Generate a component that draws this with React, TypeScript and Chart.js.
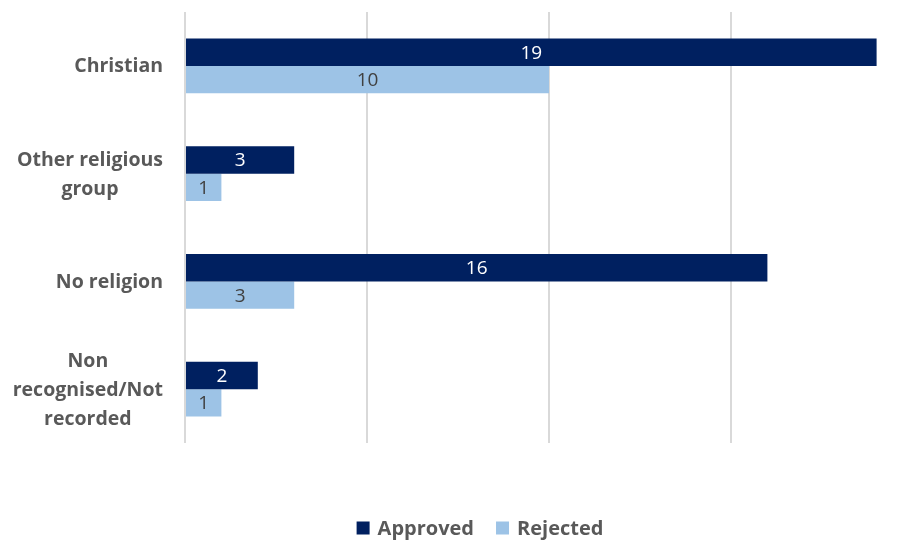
import React, { useEffect, useRef } from "react";
import { Chart, registerables } from "chart.js";

Chart.register(...registerables);

const categories: string[][] = [
  ["Christian"],
  ["Other religious", "group"],
  ["No religion"],
  ["Non", "recognised/Not", "recorded"],
];
const approved = [19, 3, 16, 2];
const rejected = [10, 1, 3, 1];
const seriesNames = ["Approved", "Rejected"];
const seriesColors = ["#002060", "#9DC3E6"];
const labelColors = ["#FFFFFF", "#404040"];

const FONT = "'Open Sans', Lato, sans-serif";

const yLabelPlugin = {
  id: "yLabels",
  afterDraw(chart: any) {
    const ctx = chart.ctx;
    const y = chart.scales.y;
    ctx.save();
    ctx.font = `700 19.5px ${FONT}`;
    ctx.fillStyle = "#595959";
    ctx.textAlign = "center";
    ctx.textBaseline = "middle";
    const right = 163;
    const lh = 29;
    categories.forEach((lines, i) => {
      const cy = y.getPixelForTick(i);
      const maxW = Math.max(...lines.map((l) => ctx.measureText(l).width));
      const cx = right - maxW / 2;
      const start = cy - ((lines.length - 1) * lh) / 2;
      lines.forEach((l, k) => ctx.fillText(l, cx, start + k * lh + 1));
    });
    ctx.restore();
  },
};

const dataLabelPlugin = {
  id: "dataLabels",
  afterDatasetsDraw(chart: any) {
    const ctx = chart.ctx;
    ctx.save();
    ctx.font = `400 19px ${FONT}`;
    ctx.textAlign = "center";
    ctx.textBaseline = "middle";
    chart.data.datasets.forEach((ds: any, di: number) => {
      const meta = chart.getDatasetMeta(di);
      ctx.fillStyle = labelColors[di];
      meta.data.forEach((bar: any, i: number) => {
        const cx = (bar.x + bar.base) / 2;
        ctx.fillText(String(ds.data[i]), cx, bar.y + 1);
      });
    });
    ctx.restore();
  },
};

const legendPlugin = {
  id: "customLegend",
  afterDraw(chart: any) {
    const ctx = chart.ctx;
    ctx.save();
    ctx.font = `700 20px ${FONT}`;
    ctx.textBaseline = "middle";
    ctx.textAlign = "left";
    const box = 13;
    const gapBoxText = 8;
    const gapItems = 22;
    const widths = seriesNames.map((n) => box + gapBoxText + ctx.measureText(n).width);
    const total = widths.reduce((a, b) => a + b, 0) + gapItems * (widths.length - 1);
    let x = 480 - total / 2;
    const cy = 528;
    seriesNames.forEach((n, i) => {
      ctx.fillStyle = seriesColors[i];
      ctx.fillRect(x, cy - box / 2, box, box);
      ctx.fillStyle = "#595959";
      ctx.fillText(n, x + box + gapBoxText, cy + 1);
      x += widths[i] + gapItems;
    });
    ctx.restore();
  },
};

export default function App() {
  const ref = useRef<HTMLCanvasElement>(null);
  useEffect(() => {
    if (!ref.current) return;
    const chart = new Chart(ref.current, {
      type: "bar",
      data: {
        labels: categories.map((c) => c.join(" ")),
        datasets: [
          { label: seriesNames[0], data: approved, backgroundColor: seriesColors[0], borderWidth: 0 },
          { label: seriesNames[1], data: rejected, backgroundColor: seriesColors[1], borderWidth: 0 },
        ],
      },
      options: {
        indexAxis: "y",
        responsive: false,
        animation: false,
        layout: { padding: { top: 12, bottom: 98, left: 0, right: 1 } },
        datasets: { bar: { barPercentage: 1, categoryPercentage: 0.51 } },
        plugins: { legend: { display: false }, tooltip: { enabled: false } },
        scales: {
          x: {
            min: 0,
            max: 20,
            ticks: { display: false, stepSize: 5 },
            grid: { color: "#D9D9D9", lineWidth: 2, drawTicks: false },
            border: { display: false },
            afterFit: (s: any) => { s.height = 0; },
          },
          y: {
            ticks: { display: false },
            grid: { display: false, drawTicks: false },
            border: { display: false },
            afterFit: (s: any) => { s.width = 185; },
          },
        },
      } as any,
      plugins: [dataLabelPlugin, yLabelPlugin, legendPlugin],
    });
    return () => chart.destroy();
  }, []);
  return (
    <div style={{ position: "fixed", left: 0, top: 0, width: 902, height: 541, overflow: "hidden", background: "#fff" }}>
      <canvas ref={ref} width={914} height={541} style={{ display: "block" }} />
    </div>
  );
}
